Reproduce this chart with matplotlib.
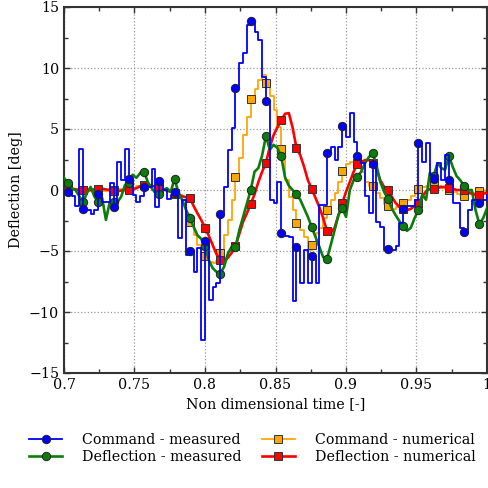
import numpy as np
import matplotlib
matplotlib.use("Agg")
import matplotlib.pyplot as plt
from matplotlib.ticker import MultipleLocator, FuncFormatter

plt.rcParams['font.family'] = 'DejaVu Serif'
plt.rcParams['font.size'] = 10.3

# sampling grid of the time histories (non dimensional time)
n_samples = 112
t = np.linspace(0.7, 1.0, n_samples)

# command - measured [deg]
cmd_meas = [
    -0.15, -0.15, -0.5, -1.3, 3.4, -1.55, -1.6, -2.0,
    -1.6, -0.35, -1.0, -1.0, 0.6, -1.4, 2.3, 0.8,
    3.4, 0.9, -0.4, -1.0, -0.5, 0.25, 0.25, 1.7,
    -1.4, 0.75, 0.0, -0.7, -0.4, -0.2, -3.9, -0.8,
    -5.3, -5.0, -6.7, -4.75, -12.3, -4.2, -9.0, -7.95,
    -7.6, -1.95, 0.25, 3.3, 5.1, 8.35, 10.4, 11.2,
    13.5, 13.85, 12.95, 12.3, 9.25, 7.3, -0.8, -1.05,
    0.65, -3.5, -3.8, -3.85, -9.1, -4.7, -7.6, -4.9,
    -7.6, -5.4, -7.6, -1.2, -1.2, 3.07, 3.5, 2.45,
    3.5, 5.25, 4.35, 6.3, 3.95, 2.75, 2.2, -0.5,
    -1.9, 2.15, -2.6, -3.0, -4.9, -4.85, -4.9, -4.6,
    -2.7, -1.55, -1.3, -1.3, -0.8, 3.85, 2.3, 3.85,
    1.2, 0.9, 2.2, 0.8, 2.85, 0.8, -1.1, -1.1,
    -3.1, -3.45, -1.65, -0.8, -0.8, -1.1, -0.8, -0.4,
]

# deflection - measured [deg]
defl_meas = [
    1.0, 0.57, 0.15, 0.0, -0.5, -1.0, -0.25, 0.25,
    -0.55, -1.0, -0.65, -2.45, -1.0, -1.0, -1.0, -0.55,
    0.4, 0.55, 1.25, 1.0, 1.4, 1.5, 0.65, 0.15,
    -0.25, -0.3, 0.0, 0.15, -0.15, 0.9, -0.15, -0.8,
    -1.6, -2.3, -3.0, -3.7, -4.0, -4.6, -5.75, -6.4,
    -6.7, -6.85, -6.3, -5.2, -4.65, -4.7, -3.3, -2.2,
    -1.1, 0.0, 1.5, 1.8, 2.85, 4.45, 3.3, 3.7,
    3.45, 2.75, 1.05, 0.35, 0.0, -0.35, -0.8, -1.5,
    -2.2, -3.05, -3.85, -4.65, -5.5, -5.65, -4.5, -3.3,
    -2.05, -1.45, -2.2, 0.0, 0.8, 1.1, 1.5, 2.2,
    2.7, 3.0, 2.05, 0.65, -0.15, -0.7, -1.5, -2.05,
    -2.55, -2.95, -3.35, -3.1, -2.3, -1.65, -0.4, -0.8,
    1.4, 1.15, 2.2, 1.8, 1.65, 2.8, 1.9, 1.15,
    0.8, 0.33, 0.0, 0.0, -1.65, -2.8, -2.3, -1.5,
]

# command - numerical [deg]
cmd_num = [
    0.2, 0.15, 0.1, 0.05, 0.0, 0.0, -0.05, -0.1,
    -0.1, -0.1, -0.1, -0.05, 0.0, 0.0, 0.05, 0.1,
    0.15, 0.15, 0.2, 0.3, 0.35, 0.4, 0.4, 0.35,
    0.2, 0.1, 0.0, -0.1, -0.2, -0.3, -0.4, -0.8,
    -2.0, -2.6, -3.7, -4.5, -4.9, -5.45, -5.9, -6.0,
    -5.8, -5.2, -3.7, -2.45, -0.8, 1.05, 2.6, 4.5,
    6.0, 7.45, 8.3, 9.0, 9.4, 8.8, 7.7, 6.55,
    5.15, 3.4, 0.8, -0.55, -1.65, -2.7, -3.3, -3.85,
    -4.9, -4.5, -3.5, -3.1, -2.3, -1.65, -0.8, -0.25,
    0.65, 1.55, 2.15, 2.3, 2.4, 2.2, 1.5, 0.65,
    0.3, 0.3, -0.25, -0.65, -1.15, -1.35, -1.55, -1.4,
    -1.25, -1.1, -0.8, -0.5, -0.15, 0.1, 0.25, 0.33,
    0.4, 0.4, 0.33, 0.15, 0.1, 0.0, -0.15, -0.35,
    -0.4, -0.5, -0.3, -0.25, -0.15, -0.1, -0.1, -0.1,
]

# deflection - numerical [deg]
defl_num = [
    0.1, 0.1, 0.1, 0.05, 0.0, 0.0, 0.0, 0.0,
    0.05, 0.1, 0.1, 0.05, 0.0, -0.1, -0.1, -0.05,
    0.0, 0.0, 0.05, 0.15, 0.3, 0.4, 0.4, 0.35,
    0.25, 0.15, 0.05, -0.05, -0.15, -0.27, -0.4, -0.5,
    -0.6, -0.65, -1.3, -1.9, -2.45, -3.1, -3.75, -4.5,
    -5.25, -5.75, -5.9, -5.55, -5.15, -4.6, -3.6, -2.6,
    -1.9, -1.15, -0.35, 0.65, 1.5, 2.25, 3.5, 4.5,
    5.15, 5.7, 6.25, 6.3, 5.1, 3.45, 2.85, 1.9,
    0.8, 0.1, -0.65, -1.4, -2.3, -3.35, -3.5, -3.1,
    -2.1, -1.1, -0.15, 0.65, 1.5, 2.15, 2.3, 2.45,
    2.45, 2.25, 1.65, 0.8, 0.25, 0.0, -0.55, -1.05,
    -1.4, -1.55, -1.65, -1.55, -1.3, -1.1, -0.55, -0.1,
    0.1, 0.05, 0.15, 0.25, 0.25, 0.2, 0.1, 0.0,
    0.0, 0.0, -0.15, -0.3, -0.4, -0.4, -0.3, -0.25,
]

mk_every = (1, 4)

fig = plt.figure(figsize=(4.88, 4.88), dpi=100)
ax = fig.add_axes([64 / 488, 1 - 373 / 488, 423 / 488, 366 / 488])

h_cm, = ax.plot(t, cmd_meas, color='#0000ff', lw=1.3, drawstyle='steps-post',
                marker='o', ms=6, mfc='#0000ff', mec='#222222', mew=0.7,
                markevery=mk_every, zorder=5)
h_dm, = ax.plot(t, defl_meas, color='#0a7d0a', lw=1.9,
                marker='o', ms=6, mfc='#0a7d0a', mec='#222222', mew=0.7,
                markevery=mk_every, zorder=4)
h_cn, = ax.plot(t, cmd_num, color='#ffa500', lw=1.3, drawstyle='steps-post',
                marker='s', ms=5.5, mfc='#ffa500', mec='#333333', mew=0.7,
                markevery=mk_every, zorder=2)
h_dn, = ax.plot(t, defl_num, color='#ff0000', lw=1.9,
                marker='s', ms=5.5, mfc='#ff0000', mec='#333333', mew=0.7,
                markevery=mk_every, zorder=3)

ax.set_xlim(0.7, 1.0)
ax.set_ylim(-15, 15)
ax.xaxis.set_major_locator(MultipleLocator(0.05))
ax.xaxis.set_minor_locator(MultipleLocator(0.025))
ax.yaxis.set_major_locator(MultipleLocator(5))
ax.yaxis.set_minor_locator(MultipleLocator(2.5))
ax.xaxis.set_major_formatter(FuncFormatter(lambda v, p: '%g' % round(v, 3)))
ax.yaxis.set_major_formatter(FuncFormatter(lambda v, p: ('%g' % v).replace('-', '\u2212')))
ax.tick_params(which='both', direction='in', top=True, right=True, color='#333333')
ax.tick_params(which='major', length=4, width=1)
ax.tick_params(which='minor', length=3, width=1)
ax.grid(True, which='major', linestyle=':', color='#999999', linewidth=0.9)
for s in ax.spines.values():
    s.set_linewidth(1.5)
    s.set_color('#333333')

ax.set_xlabel('Non dimensional time [-]')
ax.set_ylabel('Deflection [deg]')

fig.legend([h_cm, h_dm, h_cn, h_dn],
           ['Command - measured', 'Deflection - measured',
            'Command - numerical', 'Deflection - numerical'],
           loc='center', bbox_to_anchor=(0.517, 0.081), ncol=2, frameon=False,
           handlelength=2.3, handletextpad=1.4, columnspacing=1.4,
           labelspacing=0.2, borderpad=0.2)

fig.savefig('out.png', dpi=100)
